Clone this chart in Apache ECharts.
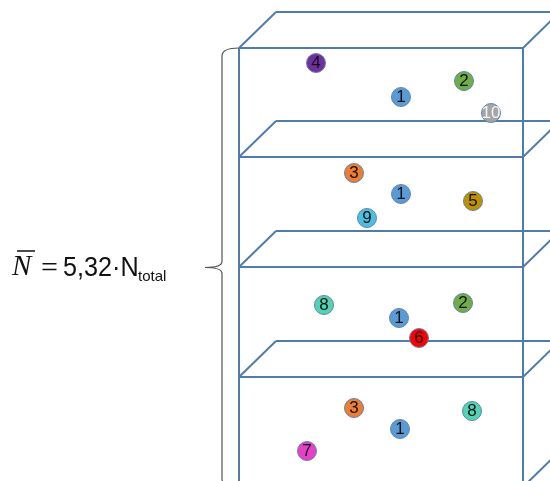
<!DOCTYPE html>
<html>
<head>
<meta charset="utf-8">
<style>html,body{margin:0;padding:0;background:#fff;}#c{width:550px;height:481px;}</style>
<script src="https://cdn.jsdelivr.net/npm/echarts@6/dist/echarts.min.js"></script>
</head>
<body>
<div id="c"></div>
<script>
// ---- data ----
const ballLabels = ['4','1','2','10','3','1','9','5','8','1','2','6','3','1','8','7'];
const ballX = [316,401,464,491,354,401,367,473,324,399,463,419,354,400,472,307];
const ballY = [63,97,81,113,173,194,218,201,305,318,303,338,408,429,411,451];
const shelfLevels = [48,157,267,377,487];
const formulaValue = '5,32';

// ---- geometry / styles ----
const boxLeft = 239, boxRight = 523, depthX = 37, depthY = 36;
const lineColor = '#4f7cab';
const ballColors = {'1':'#5B9BD5','2':'#70AD47','3':'#ED7D31','4':'#7030A0','5':'#BF9000',
  '6':'#FF0000','7':'#E640C8','8':'#52D3B2','9':'#4CBFE0','10':'#A5A5A5'};

const segs = [];
shelfLevels.forEach((y, i) => {
  const last = i === shelfLevels.length - 1;
  segs.push([[boxLeft, y], [boxRight, y]]);
  if (!last) {
    segs.push([[boxLeft + depthX, y - depthY], [boxRight + depthX, y - depthY]]);
    segs.push([[boxLeft, y], [boxLeft + depthX, y - depthY]]);
  }
  segs.push([[boxRight, y], [boxRight + depthX, y - depthY]]);
});
const yTop = shelfLevels[0], yBot = shelfLevels[shelfLevels.length - 1];
segs.push([[boxLeft, yTop], [boxLeft, yBot]]);
segs.push([[boxRight, yTop], [boxRight, yBot]]);

const ballData = ballLabels.map((l, i) => ({
  value: [ballX[i], ballY[i]],
  name: l,
  itemStyle: {color: ballColors[l]},
  label: {color: l === '10' ? '#f4f4f4' : '#111'}
}));

const chart = echarts.init(document.getElementById('c'), null, {renderer: 'canvas'});
chart.setOption({
  animation: false,
  grid: {left: 0, right: 0, top: 0, bottom: 0},
  xAxis: {type: 'value', min: 0, max: 550, show: false},
  yAxis: {type: 'value', min: 0, max: 481, inverse: true, show: false},
  series: [
    {
      type: 'lines', coordinateSystem: 'cartesian2d', z: 1,
      lineStyle: {color: lineColor, width: 2, opacity: 1},
      data: segs.map(c => ({coords: c}))
    },
    {
      type: 'custom', z: 1,
      data: [[0]],
      renderItem: function (params, api) {
        const p = (x, y) => api.coord([x, y]);
        const mid = (yTop + yBot) / 2;
        const a = p(boxLeft, yTop), b = p(222, yTop), c = p(222, yTop + 8);
        const d = p(222, mid - 6), e = p(222, mid), f = p(205, mid);
        const g = p(222, mid + 6);
        const h = p(222, yBot - 8), k = p(222, yBot), m = p(boxLeft, yBot);
        const path = `M${a[0]} ${a[1]} Q${b[0]} ${b[1]} ${c[0]} ${c[1]} L${d[0]} ${d[1]} ` +
          `Q${e[0]} ${e[1]} ${f[0]} ${f[1]} Q${e[0]} ${e[1]} ${g[0]} ${g[1]} L${h[0]} ${h[1]} ` +
          `Q${k[0]} ${k[1]} ${m[0]} ${m[1]}`;
        return {type: 'path', shape: {pathData: path},
          style: {fill: null, stroke: '#555', lineWidth: 1.2}};
      }
    },
    {
      type: 'scatter', z: 3,
      symbol: 'circle', symbolSize: 19,
      itemStyle: {borderColor: '#5f86b0', borderWidth: 1, opacity: 1},
      label: {show: true, position: 'inside', formatter: p => p.name,
        fontFamily: "'Liberation Sans Narrow','Liberation Sans',Arial,sans-serif", fontSize: 17},
      data: ballData
    }
  ],
  graphic: [
    {type: 'text', x: 12, y: 267, style: {text: 'N', font: 'italic 29px "Liberation Serif", serif',
      fill: '#111', verticalAlign: 'middle'}},
    {type: 'line', shape: {x1: 17, y1: 251, x2: 35, y2: 251}, style: {stroke: '#111', lineWidth: 1.5}},
    {type: 'text', x: 41, y: 269, style: {text: '=', font: '30px "Liberation Serif", serif',
      fill: '#111', verticalAlign: 'middle'}},
    {type: 'text', x: 63, y: 268, scaleX: 0.9, style: {text: formulaValue + '\u00B7N', font: '28px "Liberation Sans", Arial, sans-serif',
      fill: '#111', verticalAlign: 'middle'}},
    {type: 'text', x: 138, y: 277, style: {text: 'total', font: '15px "Liberation Sans", Arial, sans-serif',
      fill: '#111', verticalAlign: 'middle'}}
  ]
});
</script>
</body>
</html>
